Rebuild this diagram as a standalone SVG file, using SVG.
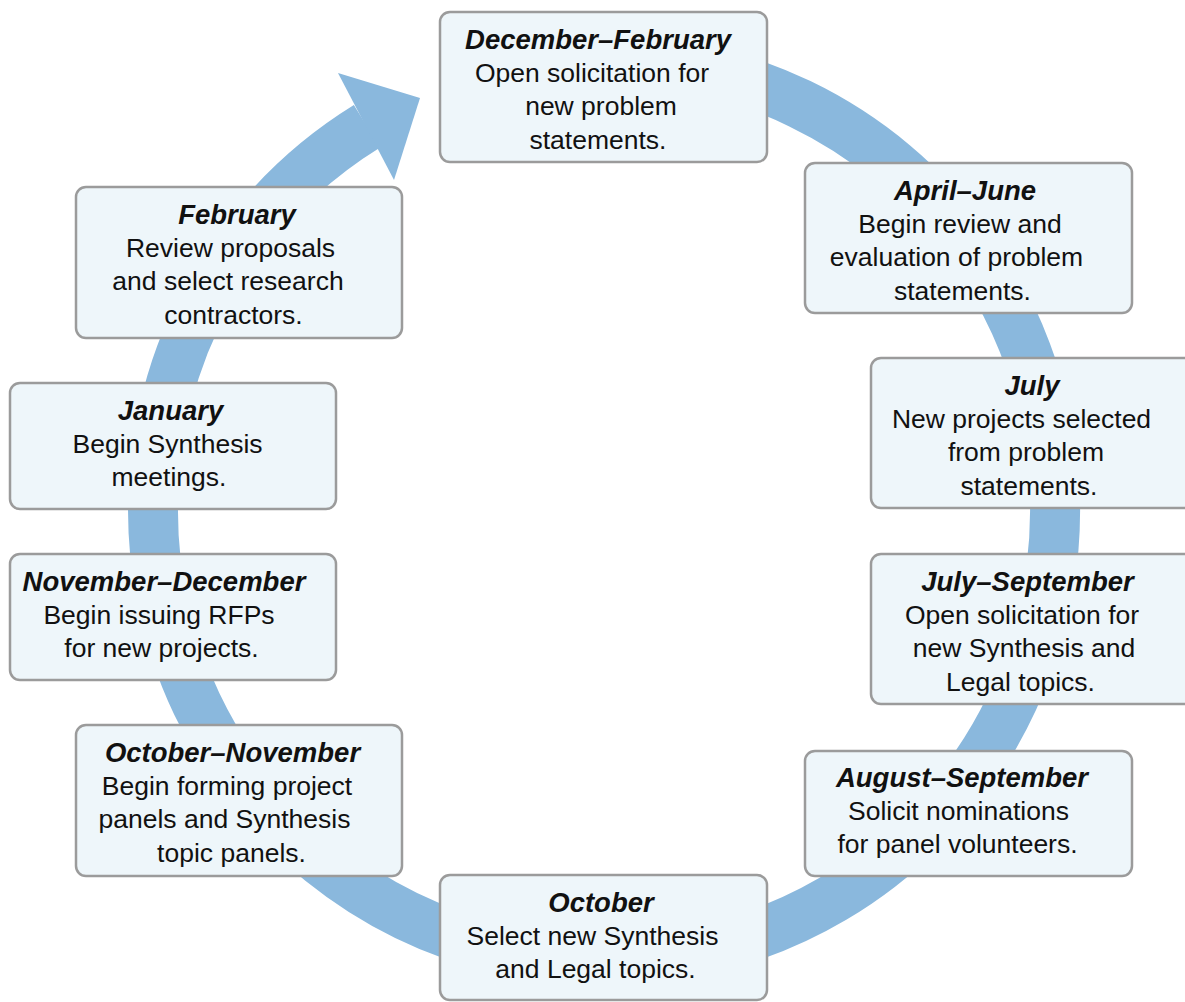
<svg xmlns="http://www.w3.org/2000/svg" width="1185" height="1002" viewBox="0 0 1185 1002">
<style>
.box{fill:#eef6fa;stroke:#9b9b9b;stroke-width:2.5}
.t{font-family:"Liberation Sans",Arial,sans-serif;font-size:27.5px;font-weight:bold;font-style:italic;fill:#111;text-anchor:middle}
.b{font-family:"Liberation Sans",Arial,sans-serif;font-size:26.5px;fill:#111;text-anchor:middle}
.ring{fill:none;stroke:#8ab8dd;stroke-width:50}
</style>
<rect width="1185" height="1002" fill="#ffffff"/>
<g id="connectors">
<path class="ring" d="M 604 59 A 451 451 0 1 1 367 126.3"/>
<polygon points="338,73 420,98 394,180" fill="#8ab8dd"/>
</g>
<g id="dec-feb">
<rect class="box" x="440" y="12" width="327" height="150" rx="10"/>
<text class="t" x="598" y="49">December–February</text>
<text class="b" x="592" y="82">Open solicitation for</text>
<text class="b" x="601" y="115">new problem</text>
<text class="b" x="598" y="149">statements.</text>
</g>
<g id="apr-jun">
<rect class="box" x="805" y="163" width="327" height="150" rx="10"/>
<text class="t" x="965" y="200">April–June</text>
<text class="b" x="960" y="233">Begin review and</text>
<text class="b" x="956.5" y="266">evaluation of problem</text>
<text class="b" x="962.5" y="300">statements.</text>
</g>
<g id="jul">
<rect class="box" x="871" y="358" width="327" height="150" rx="10"/>
<text class="t" x="1032" y="395">July</text>
<text class="b" x="1021.5" y="428">New projects selected</text>
<text class="b" x="1026" y="461">from problem</text>
<text class="b" x="1029" y="495">statements.</text>
</g>
<g id="jul-sep">
<rect class="box" x="871" y="554" width="327" height="150" rx="10"/>
<text class="t" x="1027.5" y="591">July–September</text>
<text class="b" x="1022" y="624">Open solicitation for</text>
<text class="b" x="1024" y="657">new Synthesis and</text>
<text class="b" x="1020.5" y="691">Legal topics.</text>
</g>
<g id="aug-sep">
<rect class="box" x="805" y="751" width="327" height="125" rx="10"/>
<text class="t" x="962" y="787">August–September</text>
<text class="b" x="958.5" y="820">Solicit nominations</text>
<text class="b" x="957.5" y="853">for panel volunteers.</text>
</g>
<g id="oct">
<rect class="box" x="440" y="875" width="327" height="125" rx="10"/>
<text class="t" x="601" y="912">October</text>
<text class="b" x="592.5" y="945">Select new Synthesis</text>
<text class="b" x="595.5" y="978">and Legal topics.</text>
</g>
<g id="oct-nov">
<rect class="box" x="76" y="725" width="326" height="151" rx="10"/>
<text class="t" x="232.5" y="762">October–November</text>
<text class="b" x="227" y="795">Begin forming project</text>
<text class="b" x="224.5" y="828">panels and Synthesis</text>
<text class="b" x="231.5" y="862">topic panels.</text>
</g>
<g id="nov-dec">
<rect class="box" x="10" y="554" width="326" height="126" rx="10"/>
<text class="t" x="164" y="591">November–December</text>
<text class="b" x="159" y="624">Begin issuing RFPs</text>
<text class="b" x="161.5" y="657">for new projects.</text>
</g>
<g id="jan">
<rect class="box" x="10" y="383" width="326" height="126" rx="10"/>
<text class="t" x="170.5" y="420">January</text>
<text class="b" x="167.5" y="453">Begin Synthesis</text>
<text class="b" x="169" y="486">meetings.</text>
</g>
<g id="feb">
<rect class="box" x="76" y="187" width="326" height="151" rx="10"/>
<text class="t" x="237" y="224">February</text>
<text class="b" x="230.5" y="257">Review proposals</text>
<text class="b" x="228" y="290">and select research</text>
<text class="b" x="233.5" y="324">contractors.</text>
</g>
</svg>
